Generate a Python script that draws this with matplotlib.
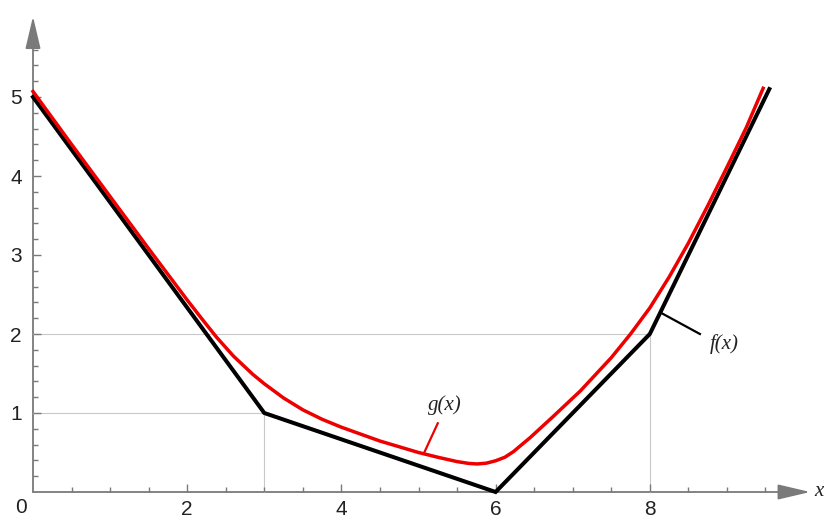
import matplotlib.pyplot as plt
import numpy as np

# f(x): piecewise linear corner points
f_x = [0, 3, 6, 8, 9.55]
f_y = [5, 1, 0, 2, 5.1]

# g(x): smooth curve
g_x = [0, 0.5, 1.0, 1.5, 2.0, 2.2, 2.38, 2.6, 2.85, 3.0, 3.25, 3.5, 3.75, 4.0,
       4.5, 5.0, 5.25, 5.5, 5.65, 5.76, 5.88, 6.0, 6.12, 6.23, 6.45, 6.74,
       7.1, 7.5, 7.75, 8.0, 8.25, 8.5, 8.75, 9.0, 9.25, 9.47]
g_y = [5.07, 4.40, 3.74, 3.08, 2.43, 2.18, 1.96, 1.72, 1.49, 1.37, 1.19, 1.04,
       0.92, 0.82, 0.645, 0.50, 0.44, 0.385, 0.362, 0.355, 0.365, 0.395, 0.44,
       0.51, 0.69, 0.95, 1.28, 1.70, 2.0, 2.33, 2.72, 3.15, 3.62, 4.11, 4.61,
       5.11]

x_major = [2, 4, 6, 8]
y_major = [1, 2, 3, 4, 5]

axis_col = '#7a7a7a'
grid_col = '#c8c8c8'
red = '#ee0000'

fig = plt.figure(figsize=(8.27, 5.2), dpi=100)
ax = fig.add_axes([0, 0, 1, 1])
ax.set_xlim(-33 / 77.1, (827 - 33) / 77.1)
ax.set_ylim(-28 / 79.0, 492 / 79.0)

for s in ['top', 'right']:
    ax.spines[s].set_visible(False)
ax.spines['left'].set_position(('data', 0))
ax.spines['bottom'].set_position(('data', 0))
ax.spines['left'].set_visible(False)
ax.spines['bottom'].set_visible(False)

# axes with arrows
ax.annotate('', xy=(10.08, 0), xytext=(0, 0),
            arrowprops=dict(arrowstyle='-|>,head_length=2.0,head_width=0.47',
                            color=axis_col, lw=1.3, mutation_scale=10,
                            shrinkA=0, shrinkB=0), zorder=1)
ax.annotate('', xy=(0, 6.02), xytext=(0, 0),
            arrowprops=dict(arrowstyle='-|>,head_length=2.0,head_width=0.47',
                            color=axis_col, lw=1.3, mutation_scale=10,
                            shrinkA=0, shrinkB=0), zorder=1)

ax.set_xticks(x_major)
ax.set_xticks(np.arange(0.5, 9.6, 0.5), minor=True)
ax.set_yticks(y_major)
ax.set_yticks(np.arange(0.2, 5.7, 0.2), minor=True)
ax.set_xticklabels([str(v) for v in x_major])
ax.set_yticklabels([str(v) for v in y_major])
ax.tick_params(which='both', direction='in', color=axis_col, width=1.0,
               labelsize=15, labelcolor='#222222')
ax.tick_params(which='major', length=5.5)
ax.tick_params(which='minor', length=3.5)
ax.tick_params(axis='x', pad=6)
ax.tick_params(axis='y', pad=8)
for lab in ax.get_xticklabels() + ax.get_yticklabels():
    lab.set_family('Liberation Sans')
ax.text(-0.16, -0.19, '0', fontsize=15, family='Liberation Sans',
        color='#222222', ha='center', va='center')

# reference grid lines
ax.plot([0, 3, 3], [1, 1, 0], color=grid_col, lw=0.8, zorder=1)
ax.plot([0, 8, 8], [2, 2, 0], color=grid_col, lw=0.8, zorder=1)

ax.plot(f_x, f_y, color='black', lw=2.9, solid_joinstyle='miter', zorder=3)
ax.plot(g_x, g_y, color=red, lw=2.5, solid_joinstyle='round', zorder=4)

# labels with leader lines
ax.plot([8.16, 8.65], [2.26, 2.0], color='black', lw=1.6, zorder=3)
ax.text(8.97, 1.87, 'f(x)', fontsize=15, family='Liberation Serif',
        style='italic', color='#222222', ha='center', va='center')
ax.plot([5.07, 5.25], [0.49, 0.87], color=red, lw=1.6, zorder=3)
ax.text(5.34, 1.10, 'g(x)', fontsize=15, family='Liberation Serif',
        style='italic', color='#222222', ha='center', va='center')
ax.text(10.13, 0.0, 'x', fontsize=15, family='Liberation Serif',
        style='italic', color='#222222', ha='left', va='center')

fig.savefig('out.png', dpi=100)
